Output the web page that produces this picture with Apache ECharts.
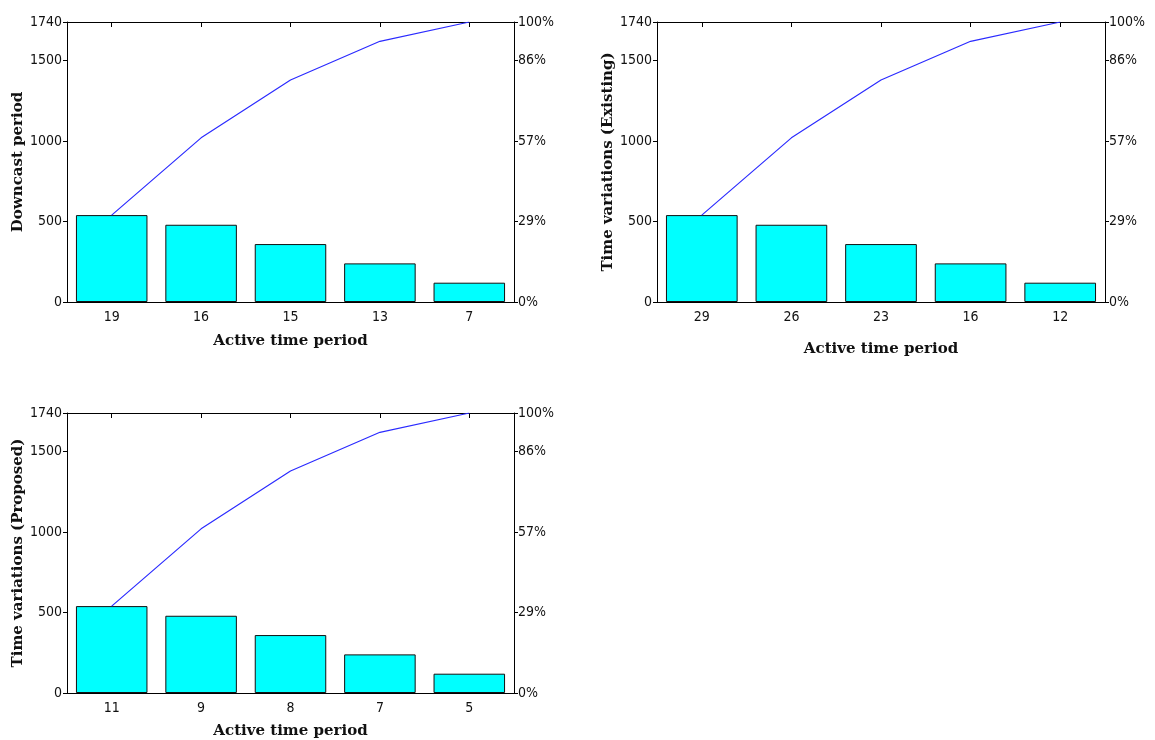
<!DOCTYPE html>
<html>
<head>
<meta charset="utf-8">
<script src="https://cdn.jsdelivr.net/npm/echarts@6/dist/echarts.min.js"></script>
<style>
  html, body { margin: 0; padding: 0; background: #fff; }
  #chart { width: 1155px; height: 740px; }
</style>
</head>
<body>
<div id="chart"></div>
<script>
// Pareto panels: bars for each active time period, blue line for the running total
const categoriesDowncast = ['19', '16', '15', '13', '7'];
const categoriesExisting = ['29', '26', '23', '16', '12'];
const categoriesProposed = ['11', '9', '8', '7', '5'];

const valuesDowncast = [540, 480, 360, 240, 120];
const valuesExisting = [540, 480, 360, 240, 120];
const valuesProposed = [540, 480, 360, 240, 120];

const yTitles = ['Downcast period', 'Time variations (Existing)', 'Time variations (Proposed)'];
const xTitle = 'Active time period';

const leftMax = 1740;
const leftTickValues = [0, 500, 1000, 1500, 1740];
const leftTickLabels = ['0', '500', '1000', '1500', '1740'];
const rightTickLabels = ['0%', '29%', '57%', '86%', '100%'];

const tickFont = "'Liberation Sans Narrow', 'DejaVu Sans Condensed', 'Arial Narrow', sans-serif";
const titleFont = "'DejaVu Serif', 'Liberation Serif', serif";

function cumulative(arr) {
  const out = [];
  let s = 0;
  for (const v of arr) { s += v; out.push(s); }
  return out;
}

const panels = [
  { cats: categoriesDowncast, vals: valuesDowncast, yName: yTitles[0],
    grid: { left: 67, top: 22, width: 447, height: 280 }, yGap: 40, xGap: 32 },
  { cats: categoriesExisting, vals: valuesExisting, yName: yTitles[1],
    grid: { left: 657, top: 22, width: 448, height: 280 }, yGap: 38, xGap: 40 },
  { cats: categoriesProposed, vals: valuesProposed, yName: yTitles[2],
    grid: { left: 67, top: 413, width: 447, height: 281 }, yGap: 40, xGap: 31 }
];

const grid = [], xAxis = [], yAxis = [], series = [];
const axisLine = { show: true, onZero: false, lineStyle: { color: '#000', width: 1 } };
const tickLabel = { color: '#111', fontFamily: tickFont, fontSize: 14 };
const titleStyle = { fontFamily: titleFont, fontWeight: 'bold', fontSize: 15, color: '#111' };

panels.forEach((p, i) => {
  grid.push(Object.assign({ containLabel: false }, p.grid));
  // bottom category axis with labels
  xAxis.push({
    type: 'category', gridIndex: i, data: p.cats, position: 'bottom',
    axisLine: axisLine, axisTick: { show: false },
    axisLabel: Object.assign({ margin: 8 }, tickLabel),
    name: xTitle, nameLocation: 'middle', nameGap: p.xGap,
    nameTextStyle: titleStyle
  });
  // top frame with inward ticks centred on each category (labels left blank)
  xAxis.push({
    type: 'category', gridIndex: i, data: p.cats, position: 'top',
    axisLine: axisLine,
    axisTick: { show: true, inside: true, alignWithLabel: true, length: 5, lineStyle: { color: '#000', width: 1 } },
    axisLabel: { show: true, interval: 0, formatter: () => '' }
  });
  yAxis.push({
    type: 'value', gridIndex: i, min: 0, max: leftMax, interval: 500, position: 'left',
    axisLine: axisLine, splitLine: { show: false },
    axisTick: { show: true, length: 4, lineStyle: { color: '#000' } },
    axisLabel: Object.assign({
      margin: 5,
      formatter: v => leftTickLabels[leftTickValues.indexOf(v)]
    }, tickLabel),
    name: p.yName, nameLocation: 'middle', nameGap: p.yGap, nameRotate: 90,
    nameTextStyle: titleStyle
  });
  yAxis.push({
    type: 'value', gridIndex: i, min: 0, max: leftMax, interval: 500, position: 'right',
    axisLine: axisLine, splitLine: { show: false },
    axisTick: { show: true, length: 4, lineStyle: { color: '#000' } },
    axisLabel: Object.assign({
      margin: 4,
      formatter: v => rightTickLabels[leftTickValues.indexOf(v)]
    }, tickLabel)
  });
  series.push({
    type: 'bar', xAxisIndex: 2 * i, yAxisIndex: 2 * i, data: p.vals,
    barCategoryGap: '20%',
    itemStyle: { color: '#00ffff', borderColor: '#111', borderWidth: 1 },
    silent: true
  });
  series.push({
    type: 'line', xAxisIndex: 2 * i, yAxisIndex: 2 * i, data: cumulative(p.vals),
    symbol: 'none', lineStyle: { color: '#2b2bff', width: 1.2 }, silent: true, z: 3
  });
});

const chart = echarts.init(document.getElementById('chart'));
chart.setOption({ animation: false, backgroundColor: '#fff', grid, xAxis, yAxis, series });
</script>
</body>
</html>
